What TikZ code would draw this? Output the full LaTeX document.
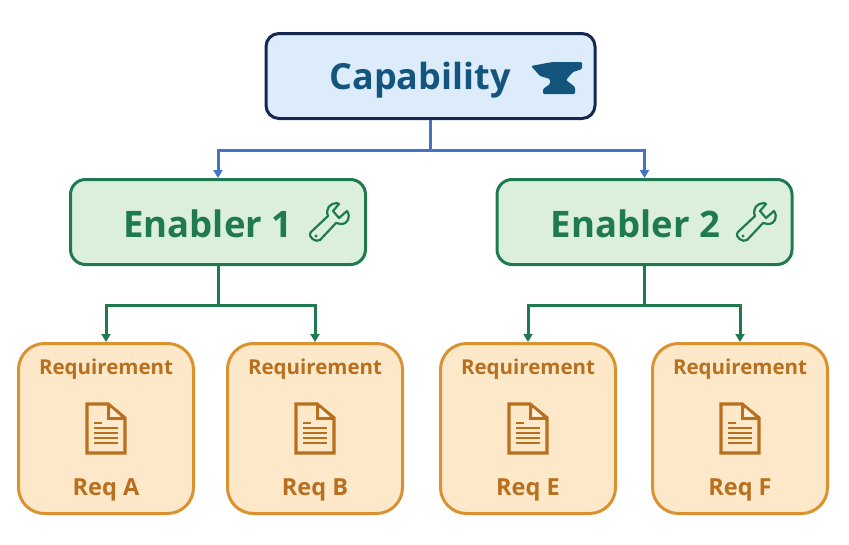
\documentclass[tikz,border=0pt]{standalone}
\usepackage{fontspec}
\setmainfont{Open Sans}
\usetikzlibrary{arrows.meta}
\definecolor{capfill}{HTML}{DCECFB}
\definecolor{capline}{HTML}{14284F}
\definecolor{captext}{HTML}{14557D}
\definecolor{capwire}{HTML}{4472C4}
\definecolor{enfill}{HTML}{DCEFDD}
\definecolor{enline}{HTML}{1F7A50}
\definecolor{reqfill}{HTML}{FDE9C9}
\definecolor{reqline}{HTML}{D9922F}
\definecolor{reqtext}{HTML}{B8701F}
\tikzset{
  capbox/.style={draw=capline,fill=capfill,line width=3pt,rounded corners=13pt,minimum width=329pt,minimum height=85pt,inner sep=0pt},
  enbox/.style={draw=enline,fill=enfill,line width=3pt,rounded corners=15pt,minimum width=295pt,minimum height=85pt,inner sep=0pt},
  reqbox/.style={draw=reqline,fill=reqfill,line width=3pt,rounded corners=26pt,minimum width=175pt,minimum height=170pt,inner sep=0pt},
  captitle/.style={text=captext,font=\fontsize{36}{36}\selectfont\bfseries,inner sep=0pt},
  entitle/.style={text=enline,font=\fontsize{36.5}{36.5}\selectfont\bfseries,inner sep=0pt},
  reqtitle/.style={text=reqtext,font=\fontsize{20.5}{20.5}\selectfont\bfseries,inner sep=0pt},
  reqname/.style={text=reqtext,font=\fontsize{23.5}{23.5}\selectfont\bfseries,inner sep=0pt},
  bluewire/.style={draw=capwire,line width=3pt,-{Triangle[length=8pt,width=9pt]}},
  greenwire/.style={draw=enline,line width=3pt,-{Triangle[length=8pt,width=9pt]}},
  anvil/.pic={
    \fill[captext,rounded corners=1.2pt] (0,4) -- (16,1) -- (22,0) -- (51,0) -- (51,7) -- (42,10) -- (35,18) -- (44,25) -- (44,32) -- (12,32) -- (12,27) -- (19,22) -- (19,17) -- (9,14) -- cycle;
  },
  wrench/.pic={
    \draw[enline,line width=2.2pt,line join=round] (1,30) -- (18,14) .. controls (15,7) and (20,1) .. (27,1) -- (29,2) -- (23,9) -- (29,16) -- (37,9) .. controls (41,15) and (38,22) .. (31,22) -- (26,21) -- (10,38) .. controls (6,41) and (-3,35) .. (1,30) -- cycle;
    \fill[enline] (6,34) circle (1.6);
  },
  docicon/.pic={
    \draw[reqtext,line width=3.4pt,line join=miter] (0,0) -- (21,0) -- (38,14) -- (38,49) -- (0,49) -- cycle;
    \draw[reqtext,line width=3pt] (21,0) -- (21,14) -- (38,14);
    \fill[reqfill!60!white] (24,4) -- (24,12) -- (33,12) -- cycle;
    \draw[reqtext,line width=2pt] (7,19) -- (15,19) (7,24) -- (31,24) (7,29) -- (31,29) (7,34) -- (31,34) (7,39) -- (31,39);
  }
}
\begin{document}
\begin{tikzpicture}[x=1pt,y=-1pt]
\useasboundingbox (0,0) rectangle (849,544);
% top box
\node[capbox] (cap) at (430.5,76) {};
\node[captitle] (captxt) at (420,80) {Capability};
\pic at (531,62) {anvil};
% enablers
\node[enbox] (en1) at (218,222) {};
\node[entitle] (en1txt) at (208,224) {Enabler 1};
\pic at (310,202) {wrench};
\node[enbox] (en2) at (644.5,222) {};
\node[entitle] (en2txt) at (635.5,224) {Enabler 2};
\pic at (737,202) {wrench};
% requirements
\node[reqbox] (reqa) at (106,428.5) {};
\node[reqtitle] (reqahead) at (106,369) {Requirement};
\node[reqname] (reqaname) at (106,490) {Req A};
\pic at (87,404) {docicon};
\node[reqbox] (reqb) at (315,428.5) {};
\node[reqtitle] (reqbhead) at (315,369) {Requirement};
\node[reqname] (reqbname) at (315,490) {Req B};
\pic at (296,404) {docicon};
\node[reqbox] (reqe) at (528,428.5) {};
\node[reqtitle] (reqehead) at (528,369) {Requirement};
\node[reqname] (reqename) at (528,490) {Req E};
\pic at (509,404) {docicon};
\node[reqbox] (reqf) at (740,428.5) {};
\node[reqtitle] (reqfhead) at (740,369) {Requirement};
\node[reqname] (reqfname) at (740,490) {Req F};
\pic at (721,404) {docicon};
% wires
\draw[bluewire] (cap.south) -- ++(0,30) -| (en1.north);
\draw[bluewire] (cap.south) -- ++(0,30) -| (en2.north);
\draw[greenwire] (en1.south) -- ++(0,39) -| (reqa.north);
\draw[greenwire] (en1.south) -- ++(0,39) -| (reqb.north);
\draw[greenwire] (en2.south) -- ++(0,39) -| (reqe.north);
\draw[greenwire] (en2.south) -- ++(0,39) -| (reqf.north);
\end{tikzpicture}
\end{document}
